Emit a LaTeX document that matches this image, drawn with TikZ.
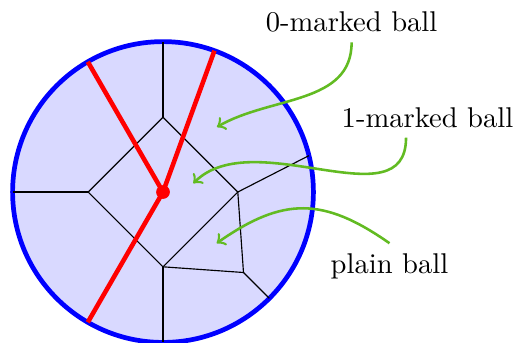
\documentclass[tikz,border=0pt]{standalone}
\usepackage{tikz}
\usetikzlibrary{arrows,positioning}

\definecolor{pointgreen}{RGB}{98,187,34}

\begin{document}
\begin{tikzpicture}[
  ball/.style={draw=blue, fill=blue!15, line width=1.65pt},
  cell/.style={draw=black, thin},
  marked/.style={draw=red, line width=1.6pt},
  pointer/.style={draw=pointgreen, line width=0.9pt, ->},
  tag/.style={font=\normalsize, inner sep=3.33pt}
]
\useasboundingbox (-2.005,-1.857) rectangle (4.354,2.362);

\filldraw[ball] (0,0) circle (1.85);

\coordinate (c) at (0,0);
\coordinate (t) at (0,0.92);
\coordinate (l) at (-0.92,0);
\coordinate (b) at (0,-0.92);
\coordinate (r) at (0.92,0);
\coordinate (p) at (0.99,-0.99);

\draw[cell] (t) -- (l) -- (b) -- (r) -- cycle;
\draw[cell] (t) -- (90:1.85);
\draw[cell] (l) -- (180:1.85);
\draw[cell] (b) -- (270:1.85);
\draw[cell] (r) -- (14:1.85);
\draw[cell] (r) -- (p) -- (b);
\draw[cell] (p) -- (-45:1.85);

\draw[marked] (c) -- (70:1.85);
\draw[marked] (c) -- (120:1.85);
\draw[marked] (c) -- (240:1.85);
\fill[red] (c) circle (2.4pt);

\node[tag] (zero) at (2.32,2.09) {0-marked ball};
\node[tag] (one) at (3.253,0.916) {1-marked ball};
\node[tag] (plain) at (2.786,-0.91) {plain ball};

\coordinate (zerocell) at (0.664,0.80);
\coordinate (onecell) at (0.373,0.107);
\coordinate (plaincell) at (0.66,-0.63);

\draw[pointer] (zero.south) to[out=-90,in=30] (zerocell);
\draw[pointer] ([xshift=-7.5pt]one.south) to[out=-90,in=45] (onecell);
\draw[pointer] (plain.north) to[out=145,in=35,looseness=1.2] (plaincell);

\end{tikzpicture}
\end{document}
